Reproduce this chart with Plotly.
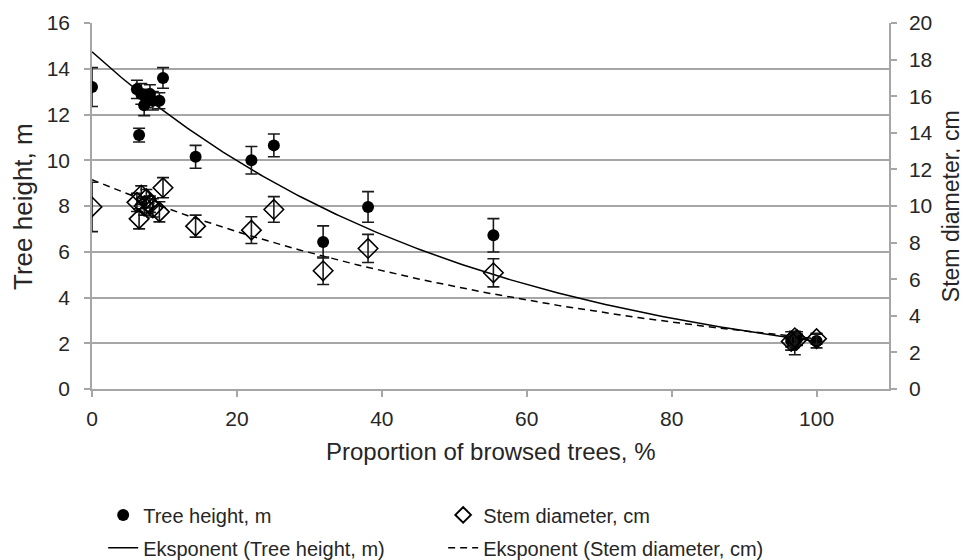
import numpy as np
import plotly.graph_objects as go

# Proportion of browsed trees, %
x_vals = [0, 6.2, 6.5, 6.8, 7.2, 7.5, 8.0, 8.4, 9.3, 9.8, 14.3, 22.0, 25.1, 31.9, 38.1, 55.4, 96.5, 97.0, 97.3, 100]
# Tree height, m (mean) and error
height = [13.2, 13.1, 11.1, 12.9, 12.4, 12.7, 12.9, 12.6, 12.6, 13.6, 10.15, 10.0, 10.65, 6.43, 7.96, 6.72, 2.1, 1.95, 2.2, 2.1]
height_err = [0.85, 0.4, 0.3, 0.45, 0.45, 0.4, 0.4, 0.4, 0.35, 0.45, 0.5, 0.6, 0.5, 0.7, 0.67, 0.73, 0.4, 0.45, 0.3, 0.3]
# Stem diameter, cm (mean) and error
diameter = [9.95, 10.2, 9.3, 10.6, 10.0, 10.4, 10.1, 9.9, 9.68, 11.0, 8.9, 8.68, 9.81, 6.46, 7.68, 6.35, 2.6, 2.8, 2.7, 2.75]
diameter_err = [1.35, 0.5, 0.55, 0.5, 0.5, 0.5, 0.45, 0.5, 0.55, 0.55, 0.6, 0.73, 0.7, 0.75, 0.77, 0.77, 0.3, 0.35, 0.3, 0.3]

y_left_ticks = list(range(0, 17, 2))
y_right_ticks = list(range(0, 21, 2))
x_ticks = list(range(0, 101, 20))

# Exponential trendlines (least squares on ln y, like Excel)
xa = np.array(x_vals, dtype=float)
bh, lah = np.polyfit(xa, np.log(height), 1)
bd, lad = np.polyfit(xa, np.log(diameter), 1)
xs = np.linspace(0, 100, 200)
trend_h = np.exp(lah) * np.exp(bh * xs)
trend_d = np.exp(lad) * np.exp(bd * xs)

FONT = "Liberation Sans, Arial, sans-serif"
TXT = "#262626"
GRID = "#a6a6a6"

fig = go.Figure()
fig.add_trace(go.Scatter(
    x=xs, y=trend_h, mode="lines", name="Eksponent (Tree height, m)",
    line=dict(color="black", width=1.5), legend="legend2", yaxis="y"))
fig.add_trace(go.Scatter(
    x=xs, y=trend_d, mode="lines", name="Eksponent (Stem diameter, cm)",
    line=dict(color="black", width=1.5, dash="7px,5px"), legend="legend2", yaxis="y2"))
fig.add_trace(go.Scatter(
    x=x_vals, y=height, mode="markers", name="Tree height, m",
    marker=dict(symbol="circle", size=12, color="black"),
    error_y=dict(type="data", array=height_err, color="#1a1a1a", thickness=1.6, width=6),
    legend="legend", yaxis="y"))
fig.add_trace(go.Scatter(
    x=x_vals, y=diameter, mode="markers", name="Stem diameter, cm",
    marker=dict(symbol="diamond-open", size=15, color="black", line=dict(width=1.6)),
    error_y=dict(type="data", array=diameter_err, color="#1a1a1a", thickness=1.6, width=6),
    legend="legend", yaxis="y2"))

axis_common = dict(
    showline=True, linecolor=GRID, linewidth=1.5, zeroline=False,
    ticks="outside", ticklen=6, tickcolor=GRID, tickwidth=1.5,
    tickfont=dict(size=21, color=TXT),
)

fig.update_layout(
    width=968, height=560,
    margin=dict(l=84, r=87, t=15, b=179, autoexpand=False),
    paper_bgcolor="white", plot_bgcolor="white",
    font=dict(family=FONT, size=20, color=TXT),
    showlegend=True,
    xaxis=dict(range=[0, 110], tickvals=x_ticks, showgrid=False,
               ticklabelstandoff=4, **axis_common),
    yaxis=dict(range=[0, 16], tickvals=y_left_ticks, showgrid=True,
               gridcolor=GRID, gridwidth=1.5, ticklabelstandoff=10, **axis_common),
    yaxis2=dict(range=[0, 20], tickvals=y_right_ticks, overlaying="y", side="right",
                showgrid=False, ticklabelstandoff=8, **axis_common),
    legend=dict(
        orientation="h", x=0.014, xanchor="left", y=-0.344, yanchor="middle",
        entrywidth=295, entrywidthmode="pixels", font=dict(size=20, color=TXT),
        bgcolor="rgba(0,0,0,0)", traceorder="normal", itemsizing="constant",
    ),
    legend2=dict(
        orientation="h", x=0.014, xanchor="left", y=-0.434, yanchor="middle",
        entrywidth=295, entrywidthmode="pixels", font=dict(size=20, color=TXT),
        bgcolor="rgba(0,0,0,0)", traceorder="normal",
    ),
    annotations=[
        dict(text="Proportion of browsed trees, %", xref="paper", yref="paper",
             x=0.5, y=-0.172, xanchor="center", yanchor="middle", showarrow=False,
             font=dict(size=24, color=TXT)),
        dict(text="Tree height, m", xref="paper", yref="paper",
             x=-0.0866, y=0.5, xanchor="center", yanchor="middle", showarrow=False,
             textangle=-90, font=dict(size=26, color=TXT)),
        dict(text="Stem diameter, cm", xref="paper", yref="paper",
             x=1.078, y=0.5, xanchor="center", yanchor="middle", showarrow=False,
             textangle=-90, font=dict(size=23, color=TXT)),
    ],
)

fig.write_html("out.html")
